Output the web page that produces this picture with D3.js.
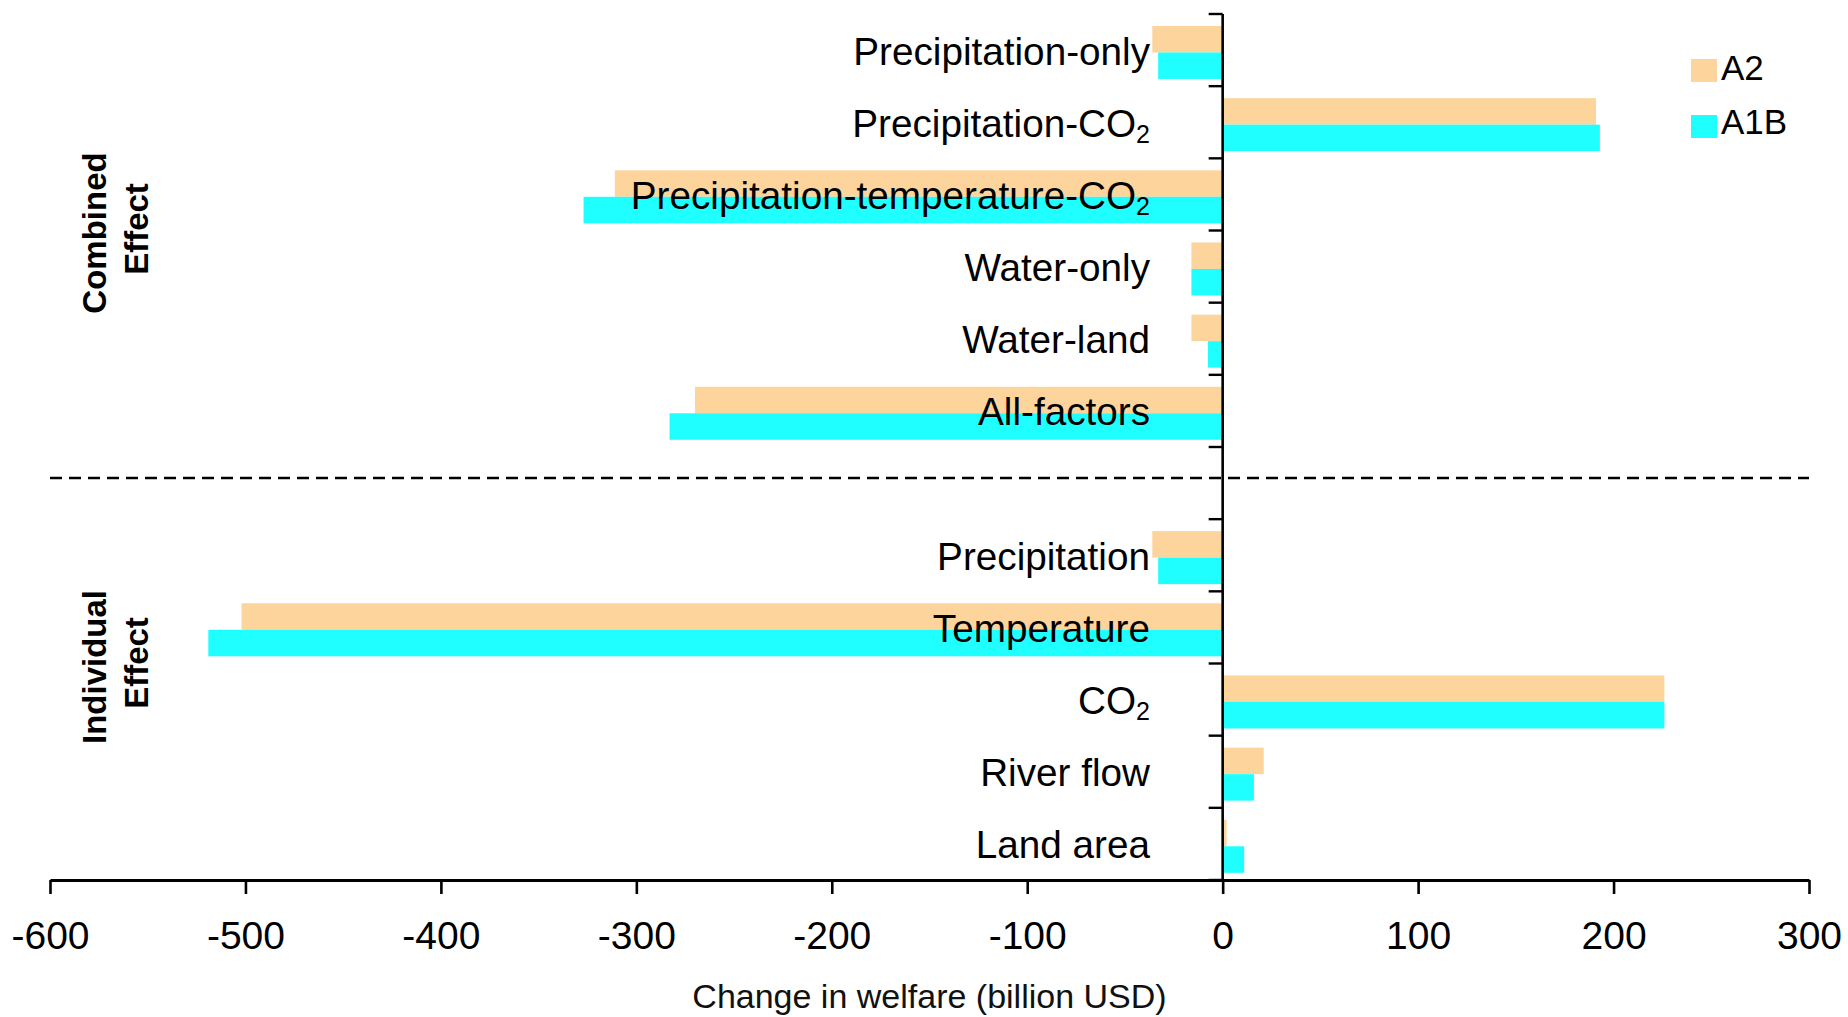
<!DOCTYPE html>
<html>
<head>
<meta charset="utf-8">
<script src="https://cdn.jsdelivr.net/npm/d3@7"></script>
<style>
  html, body { margin: 0; padding: 0; background: #fff; }
  svg { display: block; font-family: "Liberation Sans", Arial, sans-serif; }
</style>
</head>
<body>
<svg id="chart" width="1848" height="1017"></svg>
<script>
// ---- data ----
const combinedCategories = ["Precipitation-only", "Precipitation-CO2", "Precipitation-temperature-CO2", "Water-only", "Water-land", "All-factors"];
const individualCategories = ["Precipitation", "Temperature", "CO2", "River flow", "Land area"];
const categories = combinedCategories.concat(individualCategories);
const a2Values  = [-36, 191, -311, -16, -16, -270, -36, -502, 226, 21, 2];
const a1bValues = [-33, 193, -327, -16, -7.5, -283, -33, -519, 226, 16, 11];
const seriesNames = ["A2", "A1B"];
const seriesColors = ["#fdd49c", "#1fffff"];
const xTickValues = [-600, -500, -400, -300, -200, -100, 0, 100, 200, 300];
const groupLabels = [["Combined", "Effect"], ["Individual", "Effect"]];
const xTitle = "Change in welfare (billion USD)";

// ---- scales ----
const svg = d3.select("#chart");
const GAP = "__gap__";
const bandDomain = combinedCategories.concat([GAP], individualCategories);
const x = d3.scaleLinear().domain([-600, 300]).range([50, 1809]);
const y = d3.scaleBand().domain(bandDomain).range([14, 880]).padding(0);
const bw = y.bandwidth();
const barH = bw * 0.367;
const barOff = bw * 0.166;

const series = [a2Values, a1bValues];

// ---- bars ----
const barsG = svg.append("g");
series.forEach((vals, si) => {
  barsG.selectAll(null)
    .data(categories.map((c, i) => ({ c, v: vals[i] })))
    .join("rect")
    .attr("x", d => x(Math.min(0, d.v)))
    .attr("width", d => Math.abs(x(d.v) - x(0)))
    .attr("y", d => y(d.c) + barOff + si * barH)
    .attr("height", barH)
    .attr("fill", seriesColors[si]);
});

// ---- category labels ----
const labelG = svg.append("g")
  .attr("font-size", 38.7)
  .attr("fill", "#000")
  .attr("text-anchor", "end");
categories.forEach(c => {
  const t = labelG.append("text")
    .attr("x", 1150)
    .attr("y", y(c) + bw / 2 + 14.5);
  if (c.endsWith("CO2")) {
    t.append("tspan").text(c.slice(0, -1));
    t.append("tspan").attr("font-size", 25).attr("dy", 6).text("2");
  } else {
    t.text(c);
  }
});

// ---- dashed separator ----
svg.append("line")
  .attr("x1", x(-600)).attr("x2", x(300))
  .attr("y1", y(GAP) + bw * 0.43).attr("y2", y(GAP) + bw * 0.43)
  .attr("stroke", "#000").attr("stroke-width", 2.6)
  .attr("stroke-dasharray", "12,7");

// ---- y axis (zero line) with ticks at band boundaries ----
const yTicks = bandDomain.map(d => y(d)).concat([y.range()[1]]);
svg.append("line")
  .attr("x1", x(0)).attr("x2", x(0))
  .attr("y1", y.range()[0]).attr("y2", y.range()[1])
  .attr("stroke", "#000").attr("stroke-width", 2.6);
svg.append("g").selectAll("line")
  .data(yTicks)
  .join("line")
  .attr("x1", x(0) - 14).attr("x2", x(0))
  .attr("y1", d => d).attr("y2", d => d)
  .attr("stroke", "#000").attr("stroke-width", 2.4);

// ---- x axis ----
const xAxis = d3.axisBottom(x)
  .tickValues(xTickValues)
  .tickFormat(d => String(d))
  .tickSize(14)
  .tickSizeOuter(0)
  .tickPadding(27);
const xg = svg.append("g")
  .attr("transform", `translate(0,${y.range()[1]})`)
  .call(xAxis);
xg.select(".domain").attr("stroke", "#000").attr("stroke-width", 3);
xg.selectAll(".tick line").attr("stroke", "#000").attr("stroke-width", 2.6);
xg.selectAll(".tick text")
  .attr("font-size", 39)
  .attr("font-family", "'Liberation Sans', Arial, sans-serif")
  .attr("fill", "#000");

// x title
svg.append("text")
  .attr("x", (x.range()[0] + x.range()[1]) / 2)
  .attr("y", 1008)
  .attr("text-anchor", "middle")
  .attr("font-size", 34)
  .attr("fill", "#111")
  .text(xTitle);

// ---- group labels ----
const groupCenters = [233, 667];
groupLabels.forEach((lines, gi) => {
  const cy = groupCenters[gi];
  lines.forEach((ln, li) => {
    svg.append("text")
      .attr("transform", `translate(${li === 0 ? 106 : 148},${cy + (li === 0 ? 0 : -4)}) rotate(-90)`)
      .attr("text-anchor", "middle")
      .attr("font-size", 33)
      .attr("font-weight", "bold")
      .attr("fill", "#000")
      .text(ln);
  });
});

// ---- legend ----
const legG = svg.append("g");
seriesNames.forEach((s, i) => {
  legG.append("rect")
    .attr("x", 1691).attr("y", 59 + i * 56)
    .attr("width", 26).attr("height", 23)
    .attr("fill", seriesColors[i]);
  legG.append("text")
    .attr("x", 1721).attr("y", 80 + i * 54)
    .attr("font-size", 35)
    .attr("fill", "#000")
    .text(s);
});
</script>
</body>
</html>
